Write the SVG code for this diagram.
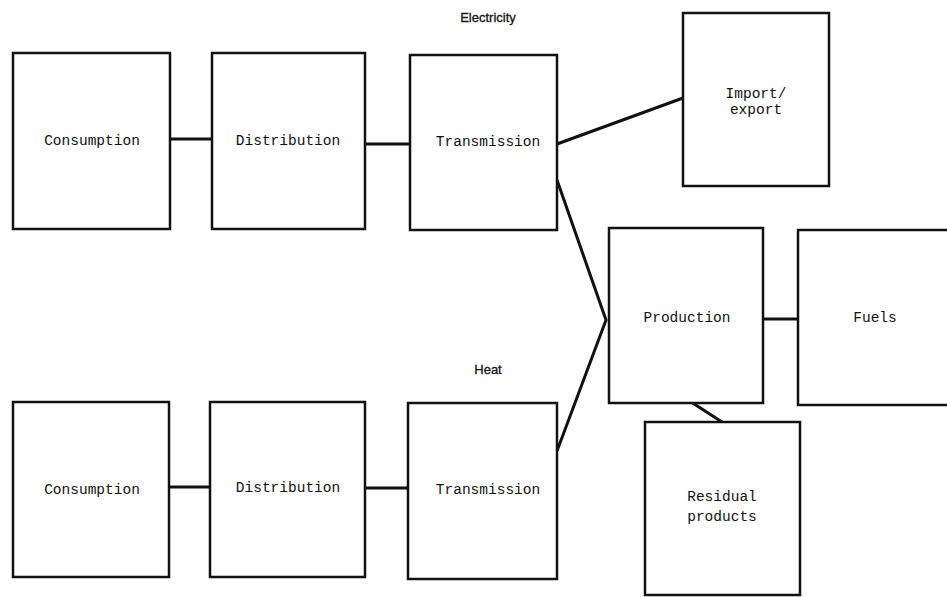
<svg xmlns="http://www.w3.org/2000/svg" width="947" height="597" viewBox="0 0 947 597">
<style>
.box{fill:#fff;stroke:#111;stroke-width:2.5}
.lbl{font-family:"Liberation Mono","Courier New",monospace;font-size:14.5px;fill:#111;text-anchor:middle}
.hdr{font-family:"Liberation Sans",Arial,sans-serif;font-size:13px;fill:#111;text-anchor:middle;stroke:#111;stroke-width:0.3}
.con{stroke:#111;stroke-width:3;fill:none;stroke-linejoin:miter}
</style>
<rect width="947" height="597" fill="#fff"/>
<text class="hdr" x="488" y="22">Electricity</text>
<text class="hdr" x="488" y="374">Heat</text>
<g id="connectors">
<line class="con" x1="170" y1="139" x2="212" y2="139"/>
<line class="con" x1="365" y1="144" x2="410" y2="144"/>
<line class="con" x1="557" y1="144" x2="683" y2="98"/>
<polyline class="con" points="557,180 606,320 557,451"/>
<line class="con" x1="763" y1="319" x2="798" y2="319"/>
<line class="con" x1="688" y1="400" x2="722" y2="422"/>
<line class="con" x1="169" y1="487" x2="210" y2="487"/>
<line class="con" x1="365" y1="488" x2="408" y2="488"/>
</g>
<g id="consumption-e"><rect class="box" x="13" y="53" width="157" height="176"/><text class="lbl" x="92" y="145">Consumption</text></g>
<g id="distribution-e"><rect class="box" x="212" y="53" width="153" height="176"/><text class="lbl" x="288" y="145">Distribution</text></g>
<g id="transmission-e"><rect class="box" x="410" y="55" width="147" height="175"/><text class="lbl" x="488" y="146">Transmission</text></g>
<g id="import-export"><rect class="box" x="683" y="13" width="146" height="173"/><text class="lbl" x="756" y="98">Import/</text><text class="lbl" x="756" y="114">export</text></g>
<g id="production"><rect class="box" x="609" y="228" width="154" height="175"/><text class="lbl" x="687" y="322">Production</text></g>
<g id="fuels"><rect class="box" x="798" y="230" width="160" height="175"/><text class="lbl" x="875" y="322">Fuels</text></g>
<g id="residual"><rect class="box" x="645" y="422" width="155" height="173"/><text class="lbl" x="722" y="501">Residual</text><text class="lbl" x="722" y="521">products</text></g>
<g id="consumption-h"><rect class="box" x="13" y="402" width="156" height="175"/><text class="lbl" x="92" y="494">Consumption</text></g>
<g id="distribution-h"><rect class="box" x="210" y="402" width="155" height="175"/><text class="lbl" x="288" y="492">Distribution</text></g>
<g id="transmission-h"><rect class="box" x="408" y="403" width="149" height="176"/><text class="lbl" x="488" y="494">Transmission</text></g>
</svg>
